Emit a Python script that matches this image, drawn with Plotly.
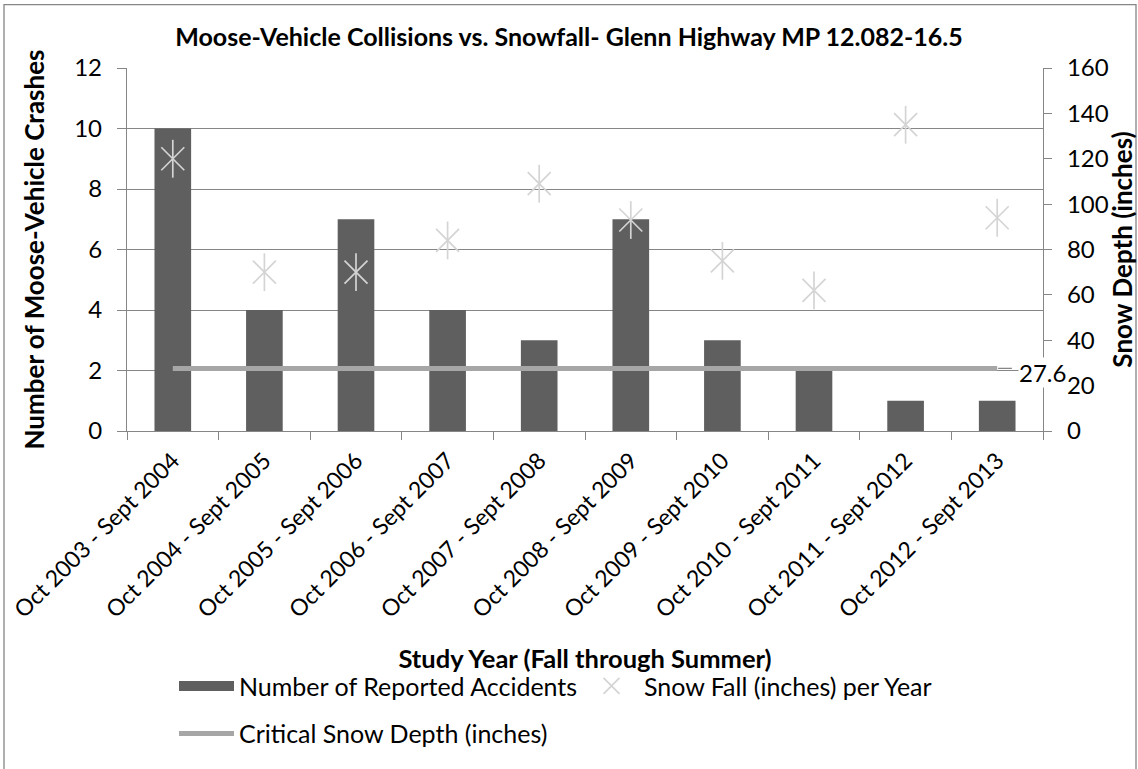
import plotly.graph_objects as go

# study years (fall through summer)
years = ['Oct 2003 - Sept 2004', 'Oct 2004 - Sept 2005', 'Oct 2005 - Sept 2006',
         'Oct 2006 - Sept 2007', 'Oct 2007 - Sept 2008', 'Oct 2008 - Sept 2009',
         'Oct 2009 - Sept 2010', 'Oct 2010 - Sept 2011', 'Oct 2011 - Sept 2012',
         'Oct 2012 - Sept 2013']
crashes = [10, 4, 7, 4, 3, 7, 3, 2, 1, 1]
snowfall = [120, 70, 70, 84, 109, 93, 75, 62, 135, 94]
critical = [27.6] * len(years)

FONT = 'Lato'
GRID = '#868686'
STAR = '#d4d4d4'
BAR = '#5f5f5f'

fig = go.Figure()
fig.add_trace(go.Bar(
    x=years, y=crashes, showlegend=False,
    name='Number of Reported Accidents',
    marker=dict(color=BAR, line=dict(width=0)),
))
# legend key for the bars (wide swatch like the original)
fig.add_trace(go.Scatter(
    x=[None], y=[None], mode='lines',
    name='Number of Reported Accidents',
    line=dict(color=BAR, width=14),
))
fig.add_trace(go.Scatter(
    x=years, y=snowfall, yaxis='y2', mode='markers',
    name='Snow Fall (inches) per Year',
    marker=dict(symbol='x-thin-open', size=23, color=STAR,
                line=dict(color=STAR, width=1.7)),
))
# vertical stroke of the star marker
fig.add_trace(go.Scatter(
    x=years, y=snowfall, yaxis='y2', mode='markers', showlegend=False,
    hoverinfo='skip',
    marker=dict(symbol='line-ns-open', size=27, color=STAR,
                line=dict(color=STAR, width=1.7)),
))
fig.add_trace(go.Scatter(
    x=years, y=critical, yaxis='y2', mode='lines',
    name='Critical Snow Depth (inches)', legend='legend2',
    line=dict(color='#a6a6a6', width=5),
))

# leader line to the data label
fig.add_shape(type='line', xref='x', yref='y2', x0=years[-1], x1=years[-1],
              x0shift=0.01, x1shift=0.16,
              y0=critical[-1], y1=critical[-1], line=dict(color=GRID, width=1.3))
fig.add_annotation(
    x=years[-1], y=critical[-1], yref='y2', text=str(critical[-1]),
    showarrow=False, xanchor='left', xshift=21, yshift=-4,
    bgcolor='white', borderpad=0,
    font=dict(family=FONT, size=24, color='#000'),
)

# chart border
fig.add_shape(type='rect', xref='paper', yref='paper',
              x0=(4 - 127) / 916, x1=(1136 - 127) / 916,
              y0=(435 - 790) / 367, y1=1 + (68 - 4) / 367,
              line=dict(color=GRID, width=1.3), layer='below')

fig.update_layout(
    width=1138, height=769,
    margin=dict(l=127, r=95, t=68, b=334),
    plot_bgcolor='white', paper_bgcolor='white',
    font=dict(family=FONT, size=24, color='#000'),
    title=dict(text='<b>Moose-Vehicle Collisions vs. Snowfall- Glenn Highway MP 12.082-16.5</b>',
               x=0.5, xref='container', y=1 - 37 / 769, yanchor='middle',
               font=dict(family=FONT, size=25, color='#000')),
    bargap=0.6,
    showlegend=True,
    legend=dict(orientation='h', x=(182 - 127 - 8) / 916, xanchor='left',
                y=(435 - 693) / 367, yanchor='middle', font=dict(family=FONT, size=25),
                entrywidth=335, itemwidth=55, bgcolor='rgba(0,0,0,0)'),
    legend2=dict(orientation='h', x=(182 - 127 - 8) / 916, xanchor='left',
                 y=(435 - 741) / 367, yanchor='middle', font=dict(family=FONT, size=25),
                 itemwidth=55, bgcolor='rgba(0,0,0,0)'),
    xaxis=dict(
        automargin=False, range=[-0.5, len(years) - 0.5],
        tickangle=-45, tickson='boundaries', ticks='outside', ticklen=8,
        tickcolor=GRID, showline=True, linecolor=GRID, linewidth=1.3,
        showgrid=False, tickfont=dict(size=23), ticklabelstandoff=6,
        title=dict(text='<b>Study Year (Fall through Summer)</b>', standoff=28,
                   font=dict(family=FONT, size=25.5)),
    ),
    yaxis=dict(
        automargin=False,
        range=[0, 12], dtick=2, showgrid=True, gridcolor=GRID, gridwidth=1.3,
        ticks='outside', ticklen=9, tickcolor=GRID, showline=True,
        linecolor=GRID, linewidth=1.3, zeroline=False, tickfont=dict(size=24),
        ticklabelstandoff=10,
        title=dict(text='<b>Number of Moose-Vehicle Crashes</b>', standoff=22,
                   font=dict(family=FONT, size=26)),
    ),
    yaxis2=dict(
        automargin=False,
        range=[0, 160], dtick=20, overlaying='y', side='right', showgrid=False,
        ticks='outside', ticklen=8, tickcolor=GRID, showline=True,
        linecolor=GRID, linewidth=1.3, zeroline=False, tickfont=dict(size=24),
        ticklabelstandoff=10,
        title=dict(text='<b>Snow Depth (inches)</b>', standoff=4,
                   font=dict(family=FONT, size=26)),
    ),
)

fig.write_html('out.html', config={'displayModeBar': False},
               post_script="document.body.style.margin='0px';")
